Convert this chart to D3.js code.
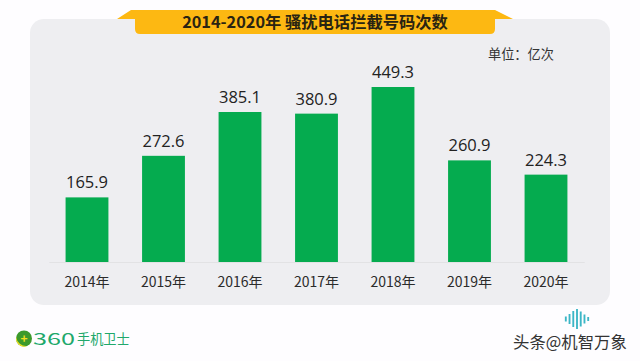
<!DOCTYPE html>
<html>
<head>
<meta charset="utf-8">
<script src="https://cdn.jsdelivr.net/npm/d3@7"></script>
<style>
    html, body { margin: 0; padding: 0; background: #fff; overflow: hidden; }
    text { font-family: "Noto Sans CJK SC", "Open Sans", sans-serif; }
</style>
</head>
<body>
<div id="chart"></div>
<script>
const years = ['2014年', '2015年', '2016年', '2017年', '2018年', '2019年', '2020年'];
const calls = [165.9, 272.6, 385.1, 380.9, 449.3, 260.9, 224.3];
const labels = ['165.9', '272.6', '385.1', '380.9', '449.3', '260.9', '224.3'];
const soundBars = [5, 10, 16, 20, 15, 9, 4];

const svg = d3.select('#chart').append('svg')
    .attr('width', 640)
    .attr('height', 361);

svg.append('rect').attr('width', 640).attr('height', 361).attr('fill', '#fefdff');

// grey panel behind the bars
svg.append('rect')
    .attr('x', 30).attr('y', 19)
    .attr('width', 580).attr('height', 286)
    .attr('rx', 14)
    .attr('fill', '#eeeef1');

// title ribbon
svg.append('path')
    .attr('d', 'M117,19 L131,10 H495 L513,19 H495 V29 Q495,34 490,34 H140 Q135,34 135,29 V19 Z')
    .attr('fill', '#fdb812');
svg.append('text')
    .attr('x', 315).attr('y', 28)
    .attr('text-anchor', 'middle')
    .attr('font-size', 16.3)
    .attr('font-weight', 700)
    .attr('fill', '#2a2412')
    .text('2014-2020年 骚扰电话拦截号码次数');

svg.append('text')
    .attr('x', 488).attr('y', 59)
    .attr('font-size', 13.2)
    .attr('fill', '#333')
    .text('单位：亿次');

const x = d3.scaleBand()
    .domain(years)
    .range([48.75, 584.25])
    .paddingInner(0.44)
    .paddingOuter(0.22);

const y = d3.scaleLinear()
    .domain([0, 449.3])
    .range([262, 87]);

const axis = svg.append('g')
    .attr('transform', 'translate(0,262)')
    .call(d3.axisBottom(x).tickSize(0).tickPadding(15));
axis.select('.domain').attr('stroke', '#e2e2e4').attr('stroke-width', 1);
axis.selectAll('text')
    .attr('font-size', 14)
    .attr('fill', '#2b2b2b')
    .style('font-family', '"Noto Sans CJK SC", sans-serif');

svg.selectAll('rect.bar')
    .data(calls)
    .join('rect')
    .attr('class', 'bar')
    .attr('x', (d, i) => x(years[i]))
    .attr('y', d => y(d))
    .attr('width', x.bandwidth())
    .attr('height', d => y(0) - y(d))
    .attr('fill', '#05ab4f');

svg.selectAll('text.val')
    .data(calls)
    .join('text')
    .attr('class', 'val')
    .attr('x', (d, i) => x(years[i]) + x.bandwidth() / 2)
    .attr('y', d => y(d) - 9)
    .attr('text-anchor', 'middle')
    .attr('font-size', 16.5)
    .attr('fill', '#222')
    .style('font-family', '"Open Sans", sans-serif')
    .text((d, i) => labels[i]);

// 360 logo
const logo = svg.append('g');
logo.append('circle').attr('cx', 24).attr('cy', 338.5).attr('r', 8).attr('fill', '#3c9a2c');
logo.append('path').attr('d', 'M16.2,337 A8,8 0 0 0 27,346 A10,10 0 0 1 16.2,337 Z').attr('fill', '#f4e020');
logo.append('text')
    .attr('x', 24).attr('y', 343)
    .attr('text-anchor', 'middle')
    .attr('font-size', 12)
    .attr('font-weight', 700)
    .attr('fill', '#f4e020')
    .text('+');
logo.append('text')
    .attr('x', 33).attr('y', 345)
    .attr('font-size', 16)
    .attr('textLength', 42)
    .attr('lengthAdjust', 'spacingAndGlyphs')
    .attr('fill', '#21a86b')
    .text('360');
logo.append('text')
    .attr('x', 77).attr('y', 344)
    .attr('font-size', 13.2)
    .attr('fill', '#21a86b')
    .text('手机卫士');

// watermark
const soundX = d3.scaleBand().domain(d3.range(soundBars.length)).range([563, 591]).padding(0.5);
svg.append('g').selectAll('rect')
    .data(soundBars)
    .join('rect')
    .attr('x', (d, i) => soundX(i))
    .attr('y', d => 319 - d / 2)
    .attr('width', soundX.bandwidth())
    .attr('height', d => d)
    .attr('fill', '#3cb6c6');
svg.append('text')
    .attr('x', 513).attr('y', 348)
    .attr('font-size', 16.4)
    .attr('fill', '#333')
    .text('头条@机智万象');
</script>
</body>
</html>
